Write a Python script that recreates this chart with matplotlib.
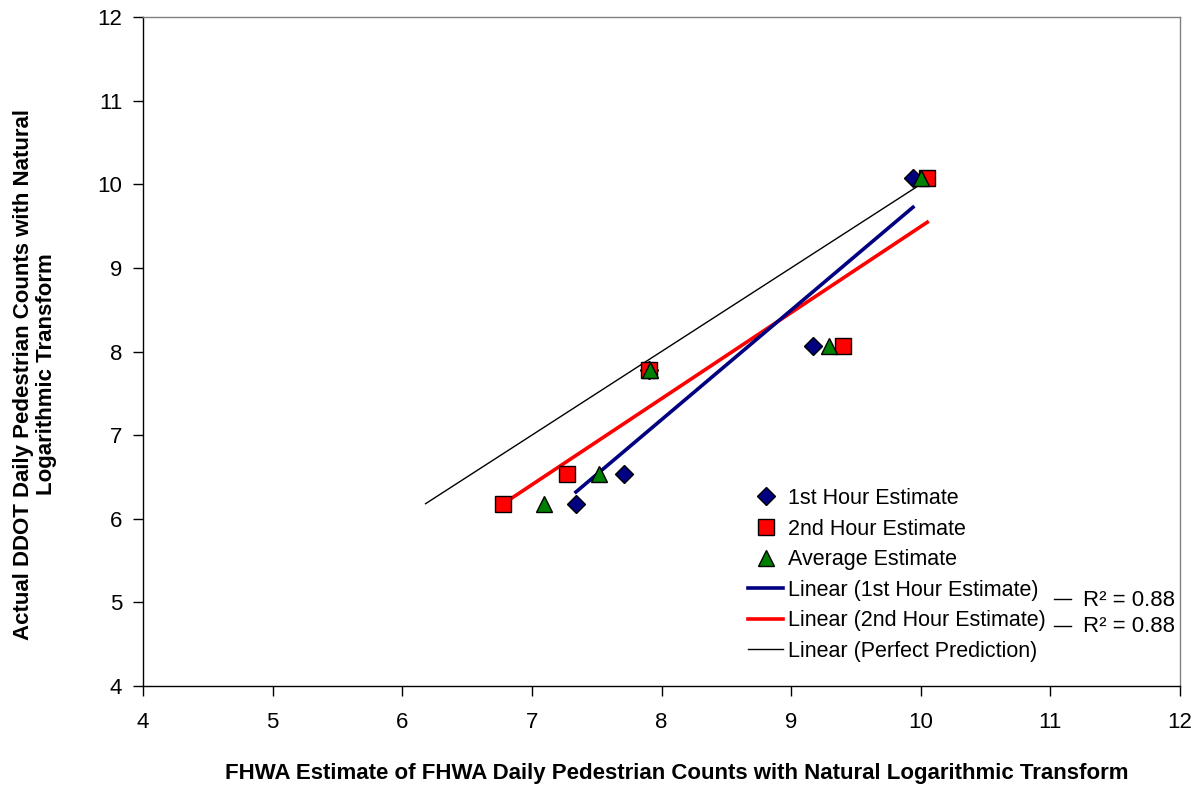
import numpy as np
import matplotlib
matplotlib.use("Agg")
import matplotlib.pyplot as plt
from matplotlib.lines import Line2D

plt.rcParams['font.family'] = ['Liberation Sans', 'DejaVu Sans']

# Data
actual = [6.18, 6.53, 7.78, 8.06, 10.07]
first_hour = [7.34, 7.71, 7.90, 9.17, 9.94]
second_hour = [6.78, 7.27, 7.90, 9.40, 10.05]
average_est = [7.09, 7.52, 7.91, 9.29, 10.00]
x_ticks = [4, 5, 6, 7, 8, 9, 10, 11, 12]
y_ticks = [4, 5, 6, 7, 8, 9, 10, 11, 12]
r2_labels = ["R\u00b2 = 0.88", "R\u00b2 = 0.88"]

W, H = 1200, 786
fig = plt.figure(figsize=(W / 100, H / 100), dpi=100)
ax = fig.add_axes([143 / W, 1 - 686 / H, (1180 - 143) / W, (686 - 17) / H])

navy = '#000080'
red = '#FF0000'
green = '#008000'

# trend lines
def trend(x, y):
    x = np.asarray(x); y = np.asarray(y)
    m, b = np.polyfit(x, y, 1)
    xs = np.array([x.min(), x.max()])
    return xs, m * xs + b

xs1, ys1 = trend(first_hour, actual)
xs2, ys2 = trend(second_hour, actual)
xsp, ysp = trend(actual, actual)

ax.plot(xsp, ysp, color='black', lw=1.0, zorder=2)
ax.plot(xs2, ys2, color=red, lw=2.6, zorder=2)
ax.plot(xs1, ys1, color=navy, lw=2.6, zorder=2)

ax.plot(first_hour, actual, linestyle='none', marker='D', ms=9, mfc=navy, mec='black', mew=1.0, zorder=3)
ax.plot(second_hour, actual, linestyle='none', marker='s', ms=11, mfc=red, mec='black', mew=1.0, zorder=4)
ax.plot(average_est, actual, linestyle='none', marker='^', ms=12, mfc=green, mec='black', mew=1.0, zorder=5)

ax.set_xlim(4, 12)
ax.set_ylim(4, 12)
ax.set_xticks(x_ticks)
ax.set_yticks(y_ticks)
ax.tick_params(direction='out', length=7, width=1, labelsize=16, colors='black')
ax.tick_params(axis='x', pad=12)
ax.tick_params(axis='y', pad=8)
ax.spines['left'].set_color('black')
ax.spines['bottom'].set_color('black')
ax.spines['top'].set_color('#808080')
ax.spines['right'].set_color('#808080')
for s in ax.spines.values():
    s.set_linewidth(1.0)

handles = [
    Line2D([], [], linestyle='none', marker='D', ms=9, mfc=navy, mec='black', mew=1.0),
    Line2D([], [], linestyle='none', marker='s', ms=11, mfc=red, mec='black', mew=1.0),
    Line2D([], [], linestyle='none', marker='^', ms=12, mfc=green, mec='black', mew=1.0),
    Line2D([], [], color=navy, lw=2.6),
    Line2D([], [], color=red, lw=2.6),
    Line2D([], [], color='black', lw=1.0),
]
labels = ["1st Hour Estimate", "2nd Hour Estimate", "Average Estimate",
          "Linear (1st Hour Estimate)", "Linear (2nd Hour Estimate)",
          "Linear (Perfect Prediction)"]
leg = ax.legend(handles, labels, loc='upper left',
                bbox_to_anchor=(748 / W, 1 - 488 / H), bbox_transform=fig.transFigure,
                frameon=False, fontsize=15.5, labelspacing=0.445, handlelength=1.63,
                handletextpad=0.25, borderpad=0.0, borderaxespad=0.0)

# R^2 annotations
for yy, lab in zip([600, 627], r2_labels):
    fig.add_artist(Line2D([1054 / W, 1071 / W], [1 - (yy - 1) / H] * 2, color='black', lw=1.0))
    fig.text(1083 / W, 1 - yy / H, lab, fontsize=16, va='center', ha='left')

fig.text(677 / W, 1 - 773 / H,
         "FHWA Estimate of FHWA Daily Pedestrian Counts with Natural Logarithmic Transform",
         fontsize=16, fontweight='bold', ha='center', va='center')
fig.text(35 / W, 1 - 374 / H,
         "Actual DDOT Daily Pedestrian Counts with Natural\nLogarithmic Transform",
         fontsize=16, fontweight='bold', ha='center', va='center', rotation=90,
         multialignment='center', linespacing=1.15)

fig.savefig("out.png", dpi=100)
